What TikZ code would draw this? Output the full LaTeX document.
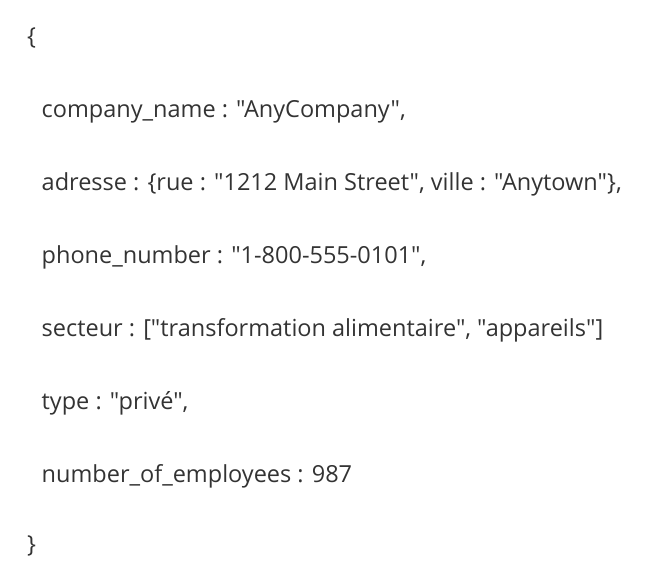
\documentclass[tikz,border=0pt]{standalone}
\usepackage{fontspec}
\newfontfamily\jsonfont{Open Sans}
\usetikzlibrary{positioning}
\definecolor{textgray}{RGB}{51,51,51}

\begin{document}
\begin{tikzpicture}[x=1pt,y=-1pt,node distance=73pt,inner sep=0pt]
\tikzstyle{line}=[anchor=base west, text=textgray, font=\jsonfont\fontsize{23.5}{28}\selectfont]
\useasboundingbox (0,0) rectangle (659,582);
\node[line] (open) at (27,44) {\{};
\node[line] (cname) at (41.5,117) {company\_name : "AnyCompany",};
\node[line] (addr) [below=of cname.base west, anchor=base west] {adresse : \{rue : "1212 Main Street", ville : "Anytown"\},};
\node[line] (phone) [below=of addr.base west, anchor=base west] {phone\_number : "1-800-555-0101",};
\node[line] (sect) [below=of phone.base west, anchor=base west] {secteur : ["transformation alimentaire", "appareils"]};
\node[line] (type) [below=of sect.base west, anchor=base west] {type : "privé",};
\node[line] (nemp) [below=of type.base west, anchor=base west] {number\_of\_employees : 987};
\node[line] (close) at (27,552) {\}};
\end{tikzpicture}
\end{document}
